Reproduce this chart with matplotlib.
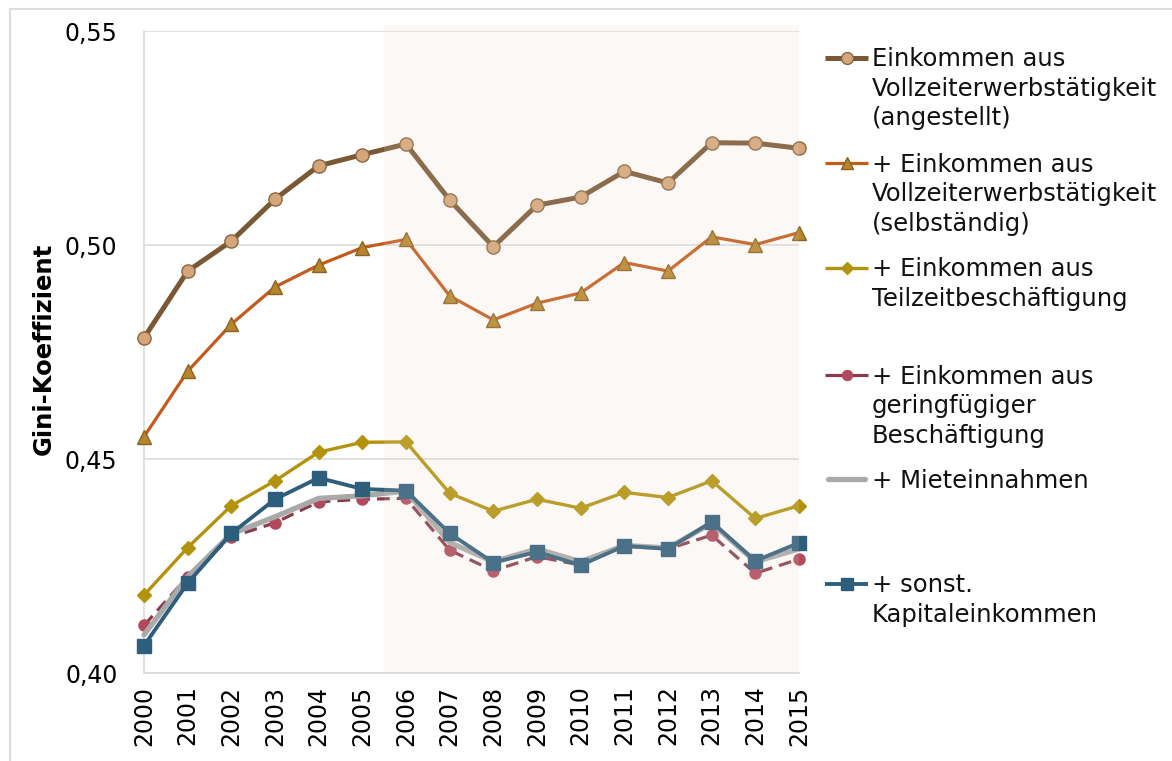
import matplotlib
matplotlib.use("Agg")
import matplotlib.pyplot as plt
from matplotlib.lines import Line2D
from matplotlib.patches import Rectangle
from matplotlib.ticker import FixedLocator, FuncFormatter

plt.rcParams["font.family"] = ["DejaVu Sans"]

years = list(range(2000, 2016))

voll_angestellt = [0.4783, 0.4939, 0.5009, 0.5107, 0.5185, 0.5211, 0.5236, 0.5105,
                   0.4996, 0.5093, 0.5112, 0.5172, 0.5145, 0.5239, 0.5238, 0.5226]
voll_selbst = [0.4552, 0.4705, 0.4815, 0.4902, 0.4953, 0.4994, 0.5013, 0.4881,
               0.4825, 0.4864, 0.4888, 0.4959, 0.4939, 0.5019, 0.5001, 0.5029]
teilzeit = [0.4182, 0.4293, 0.4391, 0.4449, 0.4516, 0.4539, 0.4540, 0.4420,
            0.4378, 0.4406, 0.4385, 0.4422, 0.4410, 0.4449, 0.4361, 0.4391]
geringfuegig = [0.4111, 0.4225, 0.4318, 0.4351, 0.4400, 0.4406, 0.4408, 0.4287,
                0.4239, 0.4272, 0.4252, 0.4297, 0.4290, 0.4322, 0.4233, 0.4266]
miete = [0.4089, 0.4225, 0.4325, 0.4365, 0.4408, 0.4414, 0.4425, 0.4305,
         0.4260, 0.4290, 0.4260, 0.4298, 0.4292, 0.4350, 0.4260, 0.4290]
kapital = [0.4064, 0.4210, 0.4326, 0.4406, 0.4456, 0.4430, 0.4426, 0.4326,
           0.4258, 0.4283, 0.4252, 0.4297, 0.4290, 0.4353, 0.4262, 0.4304]

labels = [
    ["Einkommen aus", "Vollzeiterwerbstätigkeit", "(angestellt)"],
    ["+ Einkommen aus", "Vollzeiterwerbstätigkeit", "(selbständig)"],
    ["+ Einkommen aus", "Teilzeitbeschäftigung"],
    ["+ Einkommen aus", "geringfügiger", "Beschäftigung"],
    ["+ Mieteinnahmen"],
    ["+ sonst.", "Kapitaleinkommen"],
]

# line styles per series: (data, line colour, lw, linestyle, marker, ms, face, edge)
styles = [
    (voll_angestellt, "#7a5834", 3.6, "-", "o", 9.5, "#d5a679", "#8a6640"),
    (voll_selbst, "#c45a1c", 2.3, "-", "^", 9.5, "#b8862a", "#8a6320"),
    (teilzeit, "#b3920c", 2.4, "-", "D", 7, "#b3920c", "#b3920c"),
    (geringfuegig, "#8a3b4b", 2.3, (0, (4, 2.2)), "o", 8, "#b04a5c", "#b04a5c"),
    (miete, "#a9a9a9", 3.8, "-", None, 0, "#a9a9a9", "#a9a9a9"),
    (kapital, "#2d5e7c", 2.8, "-", "s", 9.5, "#2d5e7c", "#2d5e7c"),
]

fig = plt.figure(figsize=(11.72, 7.61), dpi=100)
ax = fig.add_axes([144 / 1172, 88 / 761, 655 / 1172, 642 / 761])

for data, col, lw, ls, mk, ms, fc, ec in styles:
    ax.plot(years, data, color=col, lw=lw, linestyle=ls, marker=mk, markersize=ms,
            markerfacecolor=fc, markeredgecolor=ec, markeredgewidth=1.0,
            solid_capstyle="round", zorder=3, clip_on=False)

# light overlay marking the period from 2006 on (drawn above the lines)
ax.add_patch(Rectangle((2005.5, 0.40), 9.5, 0.1514, facecolor="#ead8ca", alpha=0.16,
                       edgecolor="none", zorder=4, clip_on=False))

ax.set_xlim(2000, 2015)
ax.set_ylim(0.40, 0.55)

grid_col = "#d9d9d9"
ax.set_yticks([0.40, 0.45, 0.50, 0.55])
ax.yaxis.set_major_formatter(FuncFormatter(lambda v, _: f"{v:.2f}".replace(".", ",")))
ax.tick_params(axis="y", length=0, pad=19, labelsize=17)
ax.set_xticks(years)
ax.set_xticklabels([str(y) for y in years], rotation=90)
ax.tick_params(axis="x", which="major", length=0, pad=9, labelsize=17)
ax.xaxis.set_minor_locator(FixedLocator([2000, 2005, 2010, 2015]))
ax.tick_params(axis="x", which="minor", length=7, width=1.1, color=grid_col)
ax.grid(axis="y", which="major", color=grid_col, lw=1.1)
ax.grid(axis="x", which="minor", color=grid_col, lw=1.1)
for side in ["left", "bottom"]:
    ax.spines[side].set_color(grid_col)
    ax.spines[side].set_linewidth(1.1)
for side in ["top", "right"]:
    ax.spines[side].set_visible(False)

ax.set_ylabel("Gini-Koeffizient", fontsize=17.5, fontweight="bold")
ax.yaxis.set_label_coords(-0.135, 0.505)

# outer chart border
fig.add_artist(Rectangle((10 / 1172, -0.05), 1.1, (761 - 9) / 761 + 0.05, transform=fig.transFigure,
                         facecolor="none", edgecolor="#dcdcdc", lw=1.5, zorder=0))

# legend, one entry per series, handle aligned with first text line
entry_y = [58, 163, 268, 375, 479, 584]
line_gap = 29.5
for (data, col, lw, ls, mk, ms, fc, ec), lab, yc in zip(styles, labels, entry_y):
    yf = 1 - yc / 761
    if mk is not None:
        x0, x1, cap = 825, 868, "butt"
    else:
        x0, x1, cap = 828, 865, "round"
    fig.add_artist(Line2D([x0 / 1172, x1 / 1172], [yf, yf], transform=fig.transFigure,
                          color=col, lw=lw, linestyle="-", solid_capstyle=cap))
    if mk is not None:
        fig.add_artist(Line2D([846.5 / 1172], [yf], transform=fig.transFigure, marker=mk,
                              markersize=ms * 0.9, markerfacecolor=fc,
                              markeredgecolor=ec, markeredgewidth=1.0, linestyle="none"))
    for i, txt in enumerate(lab):
        fig.text(872 / 1172, 1 - (yc + i * line_gap + 8.5) / 761, txt, fontsize=17.5,
                 va="baseline", ha="left", color="#111111")

fig.savefig("out.png", dpi=100)
